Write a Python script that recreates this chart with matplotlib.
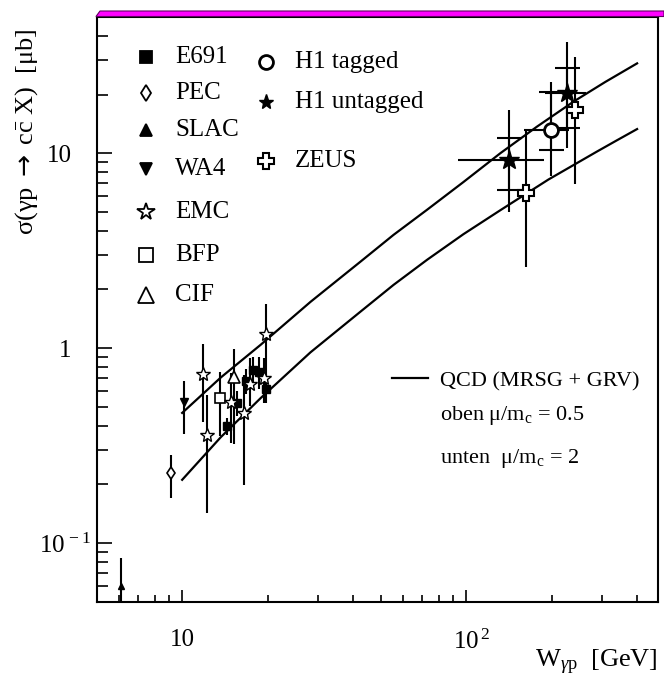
import numpy as np
import matplotlib
matplotlib.use("Agg")
import matplotlib.pyplot as plt
from matplotlib.patches import Polygon
from matplotlib.transforms import ScaledTranslation

plt.rcParams['font.family'] = ['Liberation Serif', 'DejaVu Serif']
plt.rcParams['mathtext.fontset'] = 'custom'
plt.rcParams['mathtext.rm'] = 'Liberation Serif'
plt.rcParams['mathtext.it'] = 'Liberation Serif:italic'
plt.rcParams['mathtext.sf'] = 'DejaVu Sans'

# fixed-target experiments: W [GeV], sigma [mub], lower / upper end of error bar
e691_w = [14.4, 15.6, 16.8, 17.8, 18.7, 19.8]
e691_s = [0.40, 0.52, 0.675, 0.77, 0.75, 0.62]
e691_lo = [0.36, 0.45, 0.58, 0.62, 0.62, 0.52]
e691_hi = [0.44, 0.60, 0.78, 0.90, 0.90, 0.74]

pec_w, pec_s, pec_lo, pec_hi = [9.17], [0.228], [0.171], [0.284]
slac_w, slac_s, slac_lo, slac_hi = [6.11], [0.0605], [0.04], [0.0838]
wa4_w, wa4_s, wa4_lo, wa4_hi = [10.13], [0.527], [0.362], [0.681]
bfp_w, bfp_s, bfp_lo, bfp_hi = [13.64], [0.555], [0.352], [0.75]
cif_w, cif_s, cif_lo, cif_hi = [15.28], [0.71], [0.322], [0.99]

emc_w = [11.85, 12.25, 14.9, 16.5, 17.4, 19.4, 19.8]
emc_s = [0.74, 0.36, 0.53, 0.464, 0.653, 0.70, 1.18]
emc_lo = [0.42, 0.143, 0.326, 0.198, 0.502, 0.52, 0.72]
emc_hi = [1.05, 0.577, 0.745, 0.73, 0.889, 0.89, 1.68]

# HERA points
h1t_w, h1t_s = [199.5], [13.2]
h1t_tot = ([7.6], [23.3])
h1t_stat = ([10.4], [20.5])
h1t_wr = ([160.0], [230.0])

h1u_w, h1u_s = [141.0, 227.0], [9.18, 20.3]
h1u_tot = ([5.02, 10.6], [16.6, 37.1])
h1u_stat = ([6.49, 13.5], [12.0, 27.3])
h1u_wr = ([94.0, 190.0], [187.5, 265.0])

zeus_w, zeus_s = [162.0, 241.0], [6.28, 16.7]
zeus_tot = ([2.6, 6.93], [13.1, 31.3])

# QCD curves (MRSG + GRV)
upper_w = [10, 13.7, 18.9, 28.3, 42.5, 55.5, 72.9, 97.8, 132, 177.8, 239, 309, 400]
upper_s = [0.465, 0.708, 1.04, 1.726, 2.78, 3.81, 5.13, 7.11, 10.0, 13.7, 18.4, 23.2, 28.9]
lower_w = [10, 13.7, 18.9, 28.3, 42.5, 55.5, 72.9, 97.8, 132, 195, 289, 338, 400]
lower_s = [0.211, 0.350, 0.554, 0.951, 1.54, 2.11, 2.84, 3.84, 5.10, 7.33, 10.2, 11.6, 13.3]


def yerr(s, lo, hi):
    s = np.asarray(s)
    return [s - np.asarray(lo), np.asarray(hi) - s]


fig = plt.figure(figsize=(6.64, 6.87), dpi=100)
ax = fig.add_axes([0.1456, 0.1242, 0.8458, 0.8511])
ax.set_xscale('log')
ax.set_yscale('log')
ax.set_xlim(5, 475)
ax.set_ylim(0.05, 50)

ax.plot(upper_w, upper_s, color='black', lw=1.6, zorder=2)
ax.plot(lower_w, lower_s, color='black', lw=1.6, zorder=2)

eb = dict(color='black', elinewidth=1.5, capsize=0, ls='none', zorder=3)
ax.errorbar(e691_w, e691_s, yerr=yerr(e691_s, e691_lo, e691_hi), fmt='s', ms=6,
            mfc='black', mec='black', **eb)
ax.errorbar(pec_w, pec_s, yerr=yerr(pec_s, pec_lo, pec_hi), fmt='d', ms=6,
            mfc='white', mec='black', mew=1.2, **eb)
ax.errorbar(slac_w, slac_s, yerr=yerr(slac_s, slac_lo, slac_hi), fmt='^', ms=5,
            mfc='black', mec='black', **eb)
ax.errorbar(wa4_w, wa4_s, yerr=yerr(wa4_s, wa4_lo, wa4_hi), fmt='v', ms=6,
            mfc='black', mec='black', **eb)
ax.errorbar(bfp_w, bfp_s, yerr=yerr(bfp_s, bfp_lo, bfp_hi), fmt='s', ms=7,
            mfc='white', mec='black', mew=1.2, **eb)
ax.errorbar(cif_w, cif_s, yerr=yerr(cif_s, cif_lo, cif_hi), fmt='^', ms=8,
            mfc='white', mec='black', mew=1.2, **eb)
ax.errorbar(emc_w, emc_s, yerr=yerr(emc_s, emc_lo, emc_hi), fmt='*', ms=10,
            mfc='white', mec='black', mew=1.0, **eb)

# HERA: total errors without caps, statistical errors with caps
ax.errorbar(h1t_w, h1t_s, xerr=yerr(h1t_w, *h1t_wr), yerr=yerr(h1t_s, *h1t_tot),
            fmt='none', **eb)
ax.errorbar(h1t_w, h1t_s, yerr=yerr(h1t_s, *h1t_stat), fmt='none', color='black',
            elinewidth=1.5, capsize=9, capthick=1.5, zorder=3)
ax.plot(h1t_w, h1t_s, 'o', ms=10, mfc='white', mec='black', mew=2, zorder=4)

ax.errorbar(h1u_w, h1u_s, xerr=yerr(h1u_w, *h1u_wr), yerr=yerr(h1u_s, *h1u_tot),
            fmt='none', **eb)
ax.errorbar(h1u_w, h1u_s, yerr=yerr(h1u_s, *h1u_stat), fmt='none', color='black',
            elinewidth=1.5, capsize=9, capthick=1.5, zorder=3)
ax.plot(h1u_w, h1u_s, '*', ms=15, color='black', zorder=4)

ax.errorbar(zeus_w, zeus_s, yerr=yerr(zeus_s, *zeus_tot), fmt='none', **eb)
ax.plot(zeus_w, zeus_s, 'P', ms=11, mfc='white', mec='black', mew=1.5, zorder=4)

# axes style
for sp in ax.spines.values():
    sp.set_linewidth(1.5)
ax.tick_params(which='both', direction='in', top=False, right=False, width=1.2,
               labelsize=18)
ax.tick_params(axis='x', which='major', length=8.5, pad=20)
ax.tick_params(axis='x', which='minor', length=5)
ax.tick_params(axis='y', which='major', length=11, pad=18)
ax.tick_params(axis='y', which='minor', length=8)
ax.set_xticks([10, 100])
ax.set_xticklabels(['10', r'$10^{\,2}$'])
ax.set_yticks([0.1, 1, 10])
ax.set_yticklabels([r'$10^{\,-1}$', '1', '10'])
lab01 = ax.get_yticklabels()[0]
lab01.set_transform(lab01.get_transform() + ScaledTranslation(14 / 72, 0, fig.dpi_scale_trans))
lab100 = ax.get_xticklabels()[1]
lab100.set_transform(lab100.get_transform() + ScaledTranslation(4 / 72, 0, fig.dpi_scale_trans))

fig.text(658 / 664, 1 - 667 / 687, r'W$_{\gamma\mathrm{p}}$  [GeV]', fontsize=19,
         ha='right', va='baseline')
fig.text(27 / 664, 1 - 28 / 687, r'σ(γp $\mathsf{\rightarrow}$ c$\bar{\mathrm{c}}$ X)  [μb]',
         fontsize=19, rotation=90, ha='center', va='top')

# hand drawn legend
left_rows = [('E691', 's', 'black', 8), ('PEC', 'd', 'white', 8),
             ('SLAC', '^', 'black', 9), ('WA4', 'v', 'black', 9),
             ('EMC', '*', 'white', 13), ('BFP', 's', 'white', 10),
             ('CIF', '^', 'white', 11)]
left_py = [57, 93, 130, 169, 212, 255, 295]
for (lab, mk, fc, ms), py in zip(left_rows, left_py):
    yf = (601.7 - py) / 584.7
    ax.plot([0.0885], [yf], mk, ms=ms, mfc=fc, mec='black', mew=1.3,
            transform=ax.transAxes, clip_on=False)
    ax.text(0.1394, yf, lab, fontsize=18, va='center', transform=ax.transAxes)

right_rows = [('H1 tagged', 'o', 'white', 10, 2.0), ('H1 untagged', '*', 'black', 11, 1.0),
              ('ZEUS', 'P', 'white', 11, 1.5)]
right_py = [62, 102, 161]
for (lab, mk, fc, ms, mew), py in zip(right_rows, right_py):
    yf = (601.7 - py) / 584.7
    ax.plot([0.3015], [yf], mk, ms=ms, mfc=fc, mec='black', mew=mew,
            transform=ax.transAxes, clip_on=False)
    ax.text(0.353, yf, lab, fontsize=18, va='center', transform=ax.transAxes)

ax.plot([0.5253, 0.5905], [0.3826, 0.3826], color='black', lw=1.6,
        transform=ax.transAxes)
ax.text(0.6113, (601.7 - 386.7) / 584.7, 'QCD (MRSG + GRV)', fontsize=16,
        va='baseline', transform=ax.transAxes)
ax.text(0.6113, (601.7 - 420) / 584.7, r'oben μ/m$_\mathrm{c}$ = 0.5', fontsize=16,
        va='baseline', transform=ax.transAxes)
ax.text(0.6113, (601.7 - 463) / 584.7, r'unten  μ/m$_\mathrm{c}$ = 2', fontsize=16,
        va='baseline', transform=ax.transAxes)

# magenta band above the frame
band = Polygon([(96 / 664, 1 - 16.5 / 687), (100 / 664, 1 - 11 / 687),
                (1.0, 1 - 11 / 687), (1.0, 1 - 16.5 / 687)],
               closed=True, facecolor='#ff00ff', edgecolor='#600060', lw=0.8,
               transform=fig.transFigure)
fig.patches.append(band)

fig.savefig('out.png', dpi=100)
